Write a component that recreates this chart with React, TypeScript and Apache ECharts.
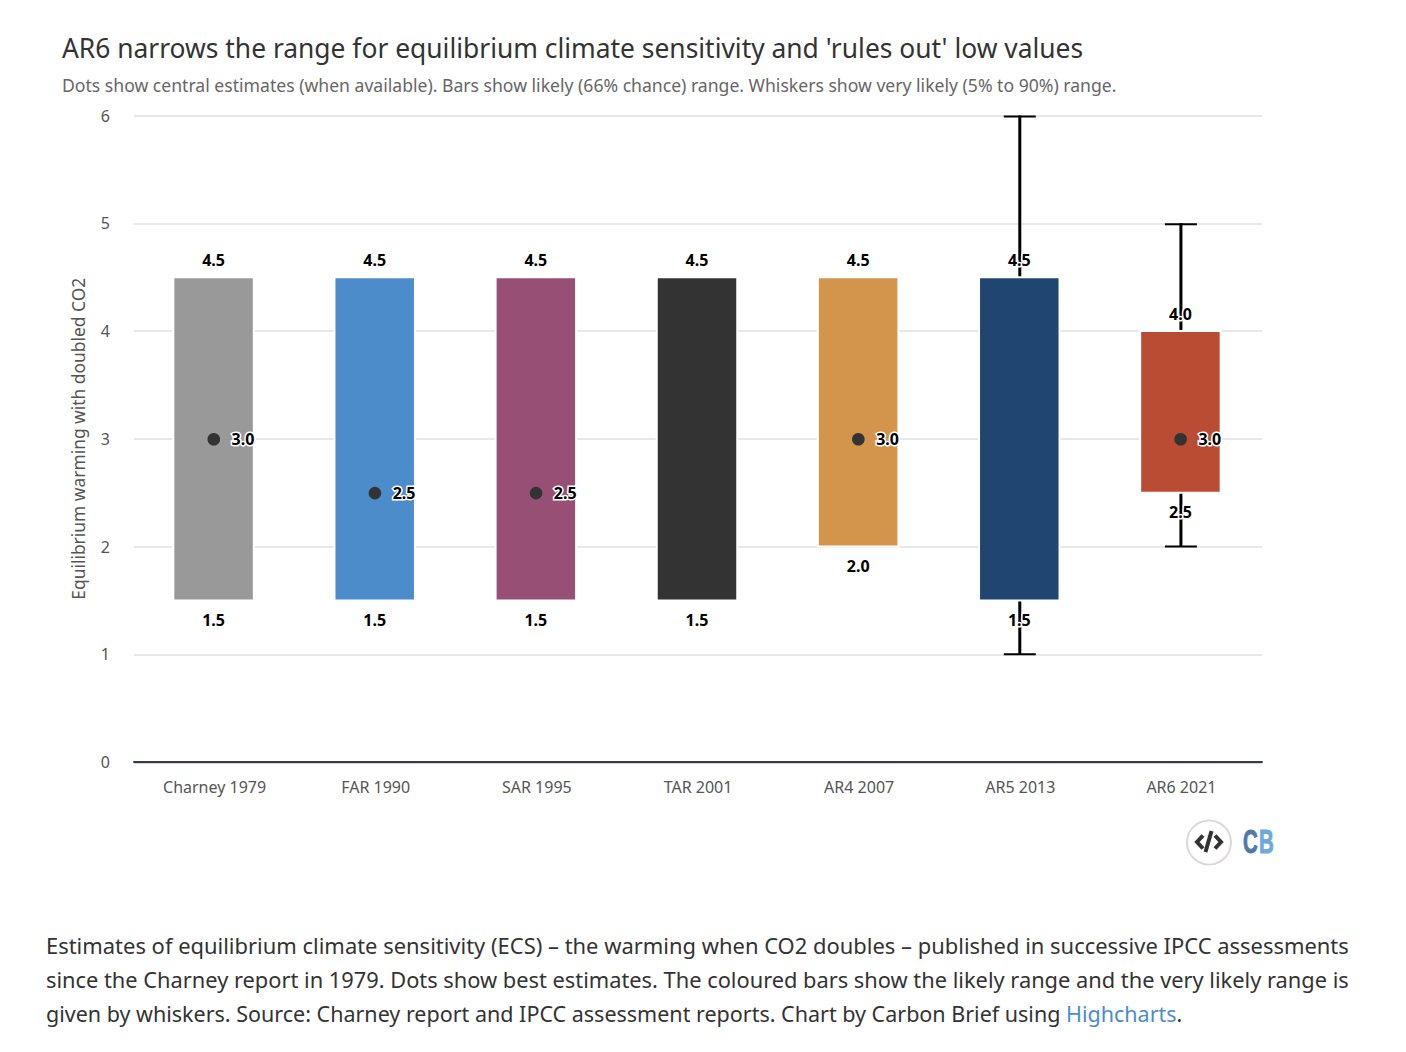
import React, { useEffect, useRef } from "react";
import * as echarts from "echarts";

const categories = ["Charney 1979", "FAR 1990", "SAR 1995", "TAR 2001", "AR4 2007", "AR5 2013", "AR6 2021"];
const likelyLow = [1.5, 1.5, 1.5, 1.5, 2.0, 1.5, 2.5];
const likelyHigh = [4.5, 4.5, 4.5, 4.5, 4.5, 4.5, 4.0];
const central: (number | null)[] = [3.0, 2.5, 2.5, null, 3.0, null, 3.0];
const veryLikelyLow: (number | null)[] = [null, null, null, null, null, 1.0, 2.0];
const veryLikelyHigh: (number | null)[] = [null, null, null, null, null, 6.0, 5.0];
const barColors = ["#999999", "#4C8CCA", "#974F76", "#333333", "#D2954B", "#1F4570", "#B94C33"];
const yTicks = [0, 1, 2, 3, 4, 5, 6];

const FONT = "'Noto Sans', sans-serif";
const TITLE = "AR6 narrows the range for equilibrium climate sensitivity and 'rules out' low values";
const SUBTITLE = "Dots show central estimates (when available). Bars show likely (66% chance) range. Whiskers show very likely (5% to 90%) range.";
const CAPTION = [
  "Estimates of equilibrium climate sensitivity (ECS) – the warming when CO2 doubles – published in successive IPCC assessments",
  "since the Charney report in 1979. Dots show best estimates. The coloured bars show the likely range and the very likely range is",
];
const CAPTION_SIZES = [21.95, 21.82];
const CAPTION_LAST = "given by whiskers. Source: Charney report and IPCC assessment reports. Chart by Carbon Brief using ";

export default function App() {
  const ref = useRef<HTMLDivElement>(null);
  useEffect(() => {
    const chart = echarts.init(ref.current!, undefined, { renderer: "svg" });
    const idx = categories.map((_, i) => i);
    const labelStyle = (text: string, x: number, y: number, align: string) => ({
      type: "text",
      x,
      y,
      z2: 20,
      style: {
        text,
        x: 0,
        y: 0,
        align,
        verticalAlign: "middle",
        fontFamily: FONT,
        fontWeight: "bold",
        fontSize: 16,
        fill: "#000",
        stroke: "#fff",
        lineWidth: 3,
      },
    });
    chart.setOption({
      animation: false,
      backgroundColor: "#fff",
      grid: { left: 134, width: 1128, top: 115.5, height: 646.5, containLabel: false },
      xAxis: {
        type: "category",
        data: categories,
        axisLine: { show: true, lineStyle: { color: "#3A3A44", width: 2 } },
        axisTick: { show: false },
        axisLabel: { color: "#555", fontFamily: FONT, fontSize: 16, margin: 16.5 },
      },
      yAxis: {
        type: "value",
        min: 0,
        max: 6,
        interval: 1,
        name: "Equilibrium warming with doubled CO2",
        nameLocation: "middle",
        nameGap: 48,
        nameTextStyle: { color: "#555", fontFamily: FONT, fontSize: 17.4, align: "center" },
        nameRotate: 90,
        axisLine: { show: false },
        axisTick: { show: false },
        axisLabel: {
          color: "#555",
          fontFamily: FONT,
          fontSize: 16,
          margin: 24,
          padding: [3, 0, 0, 0],
          formatter: (v: number) => (yTicks.includes(v) ? String(v) : ""),
        },
        splitLine: { lineStyle: { color: "#E8E8E8", width: 2 } },
      },
      series: [
        {
          type: "custom",
          name: "whiskers",
          z: 3,
          data: idx.map((i) => [i, veryLikelyLow[i], veryLikelyHigh[i]]),
          renderItem: (_p: any, api: any) => {
            if (api.value(1) == null || Number.isNaN(api.value(1))) return { type: "group", children: [] };
            const lo = api.coord([api.value(0), api.value(1)]);
            const hi = api.coord([api.value(0), api.value(2)]);
            const line = (x1: number, y1: number, x2: number, y2: number, w: number) => ({
              type: "line",
              shape: { x1, y1, x2, y2 },
              style: { stroke: "#000", lineWidth: w },
            });
            return {
              type: "group",
              children: [
                line(lo[0] - 0.5, lo[1], hi[0] - 0.5, hi[1], 3),
                line(lo[0] - 16.5, lo[1], lo[0] + 15.5, lo[1], 2),
                line(hi[0] - 16.5, hi[1] + 1, hi[0] + 15.5, hi[1] + 1, 2),
              ],
            };
          },
        },
        {
          type: "custom",
          name: "range",
          z: 4,
          data: idx.map((i) => [i, likelyLow[i], likelyHigh[i]]),
          renderItem: (_p: any, api: any) => {
            const i = api.value(0);
            const lo = api.coord([i, api.value(1)]);
            const hi = api.coord([i, api.value(2)]);
            return {
              type: "rect",
              shape: { x: lo[0] - 41.25, y: hi[1], width: 80.5, height: lo[1] - hi[1] },
              style: { fill: barColors[i], stroke: "#fff", lineWidth: 2 },
            };
          },
        },
        {
          type: "custom",
          name: "central",
          z: 5,
          data: idx.map((i) => [i, central[i]]),
          renderItem: (_p: any, api: any) => {
            const v = api.value(1);
            if (v == null || Number.isNaN(v)) return { type: "group", children: [] };
            const p = api.coord([api.value(0), v]);
            return {
              type: "group",
              children: [
                { type: "circle", shape: { cx: p[0] - 0.8, cy: p[1] + 0.5, r: 6.3 }, style: { fill: "#333" } },
                labelStyle(v.toFixed(1), p[0] + 17, p[1] + 0.5, "left"),
              ],
            };
          },
        },
        {
          type: "custom",
          name: "labels",
          z: 6,
          data: idx.map((i) => [i, likelyLow[i], likelyHigh[i]]),
          renderItem: (_p: any, api: any) => {
            const i = api.value(0);
            const lo = api.coord([i, api.value(1)]);
            const hi = api.coord([i, api.value(2)]);
            return {
              type: "group",
              children: [
                labelStyle(api.value(2).toFixed(1), hi[0] - 1, hi[1] - 16.8, "center"),
                labelStyle(api.value(1).toFixed(1), lo[0] - 1, lo[1] + 19.6, "center"),
              ],
            };
          },
        },
      ],
      graphic: [
        { type: "line", shape: { x1: 134, y1: 763.5, x2: 1262, y2: 763.5 }, style: { stroke: "#CCD6EB", lineWidth: 1 } },
        { type: "text", x: 62, y: 48, style: { text: TITLE, fontFamily: FONT, fontSize: 26.4, fill: "#333", verticalAlign: "middle" } },
        { type: "text", x: 62, y: 85, style: { text: SUBTITLE, fontFamily: FONT, fontSize: 17.6, fill: "#666", verticalAlign: "middle" } },
        ...CAPTION.map((text, k) => ({
          type: "text",
          x: 46,
          y: 945 + k * 34,
          style: { text, fontFamily: FONT, fontSize: CAPTION_SIZES[k], fill: "#333", verticalAlign: "middle" },
        })),
        {
          type: "text",
          x: 46,
          y: 1013,
          style: {
            text: `{a|${CAPTION_LAST}}{b|Highcharts}{a|.}`,
            verticalAlign: "middle",
            rich: {
              a: { fontFamily: FONT, fontSize: 21.5, fill: "#333", color: "#333" },
              b: { fontFamily: FONT, fontSize: 21.5, fill: "#4C8CCA", color: "#4C8CCA" },
            },
          },
        },
        { type: "circle", shape: { cx: 1209, cy: 842.5, r: 22 }, style: { fill: "#fff", stroke: "#DDD8D8", lineWidth: 2 } },
        { type: "polyline", shape: { points: [[1203, 835.5], [1197, 842], [1203, 848.5]] }, style: { stroke: "#333", fill: "none", lineWidth: 4 } },
        { type: "polyline", shape: { points: [[1215, 835.5], [1221, 842], [1215, 848.5]] }, style: { stroke: "#333", fill: "none", lineWidth: 4 } },
        { type: "line", shape: { x1: 1211.5, y1: 831, x2: 1205.5, y2: 852 }, style: { stroke: "#333", lineWidth: 4 } },
        { type: "text", x: 1243, y: 842, scaleX: 0.62, style: { text: "C", fontFamily: "'Liberation Sans', sans-serif", fontWeight: "bold", fontSize: 33, fill: "#4F7AA5", stroke: "#4F7AA5", lineWidth: 1, verticalAlign: "middle" } },
        { type: "text", x: 1259, y: 842, scaleX: 0.62, style: { text: "B", fontFamily: "'Liberation Sans', sans-serif", fontWeight: "bold", fontSize: 33, fill: "#6FA8DC", stroke: "#6FA8DC", lineWidth: 1, verticalAlign: "middle" } },
      ],
    });
    return () => chart.dispose();
  }, []);
  return <div ref={ref} style={{ position: "absolute", left: 0, top: 0, width: 1406, height: 1052 }} />;
}
